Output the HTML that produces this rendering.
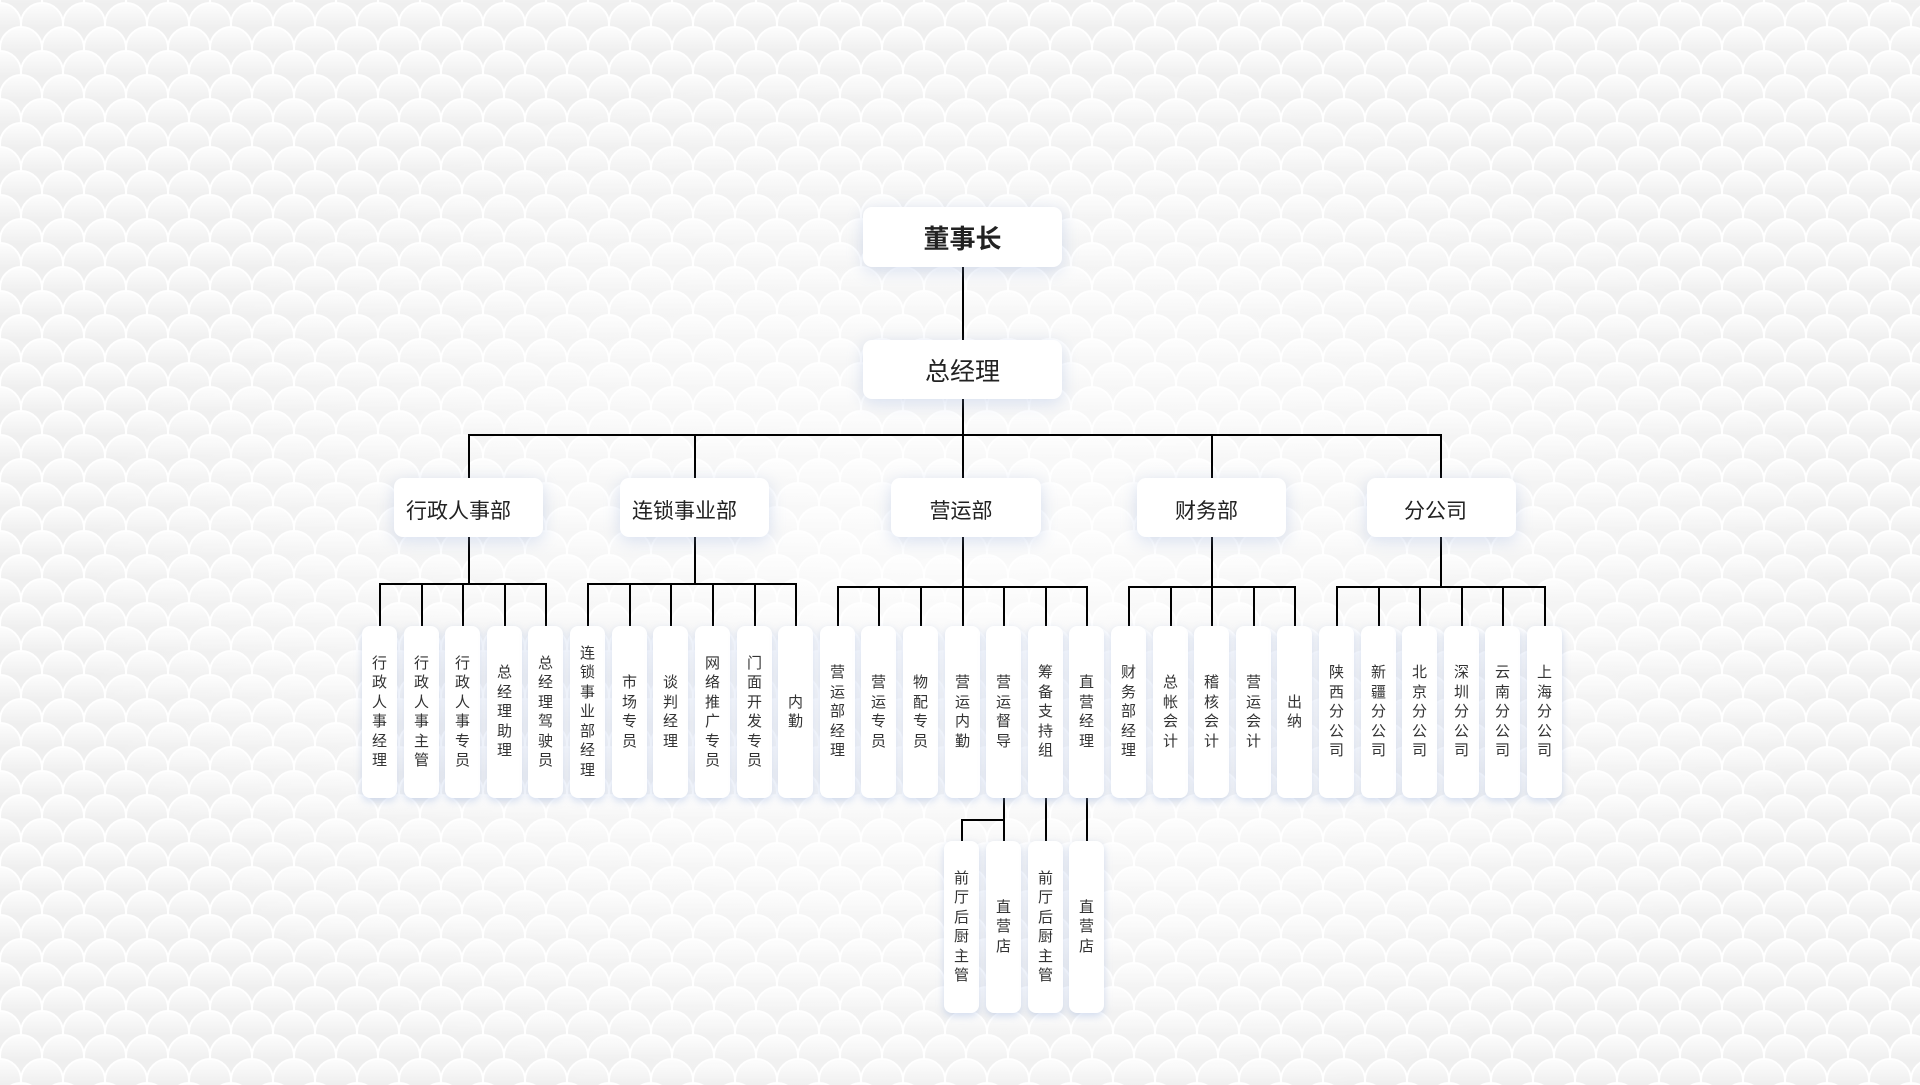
<!DOCTYPE html>
<html><head><meta charset="utf-8">
<style>
html,body{margin:0;padding:0;}
body{width:1920px;height:1085px;position:relative;overflow:hidden;background:#f5f5f5;font-family:"Liberation Sans","Noto Sans CJK SC",sans-serif;}
#bg{position:absolute;left:0;top:0;}
#glow{position:absolute;left:0;top:0;width:1920px;height:1085px;background:radial-gradient(ellipse 900px 560px at 960px 600px, rgba(255,255,255,0.7) 0%, rgba(255,255,255,0.4) 55%, rgba(255,255,255,0) 100%);}
#lines{position:absolute;left:0;top:0;}
.b{position:absolute;background:#fff;border-radius:9px;box-shadow:0 4px 16px rgba(140,165,215,0.32);display:flex;align-items:center;justify-content:center;color:#222;}
.s{position:absolute;top:626px;width:35px;height:172px;background:#fff;border-radius:8px;box-shadow:0 3px 8px rgba(140,165,215,0.38);display:flex;align-items:center;justify-content:center;color:#333;font-size:15px;line-height:19.5px;}
.s span{display:block;width:15px;text-align:center;word-break:break-all;}
.r2{top:841px;}
.d{top:478px;height:59px;width:149px;font-size:21px;}
.d span{position:relative;top:2px;}
</style></head><body>
<svg id="bg" width="1920" height="1085" xmlns="http://www.w3.org/2000/svg">
<defs>
<linearGradient id="sg" x1="0" y1="0" x2="0" y2="0.6">
<stop offset="0" stop-color="#fdfdfd"/>
<stop offset="1" stop-color="#efefef"/>
</linearGradient>
<pattern id="sc" width="42" height="48" patternUnits="userSpaceOnUse">
<rect width="42" height="48" fill="#f3f3f3"/>
<circle cx="21" cy="0" r="21" fill="url(#sg)" stroke="#ffffff" stroke-width="2"/>
<circle cx="0" cy="24" r="21" fill="url(#sg)" stroke="#ffffff" stroke-width="2"/>
<circle cx="42" cy="24" r="21" fill="url(#sg)" stroke="#ffffff" stroke-width="2"/>
<circle cx="21" cy="48" r="21" fill="url(#sg)" stroke="#ffffff" stroke-width="2"/>
</pattern>
</defs>
<rect width="1920" height="1085" fill="url(#sc)"/>
</svg>
<div id="glow"></div>
<svg id="lines" width="1920" height="1085" xmlns="http://www.w3.org/2000/svg">
<g stroke="#000" stroke-width="2" fill="none" stroke-linecap="square" shape-rendering="crispEdges">
<path d="M963 267V340M963 399V435"/>
<path d="M469 478V435H1441V478M695 435V478M963 435V478M1212 435V478"/>
<path d="M469 537V584M695 537V584M963 537V587M1212 537V587M1441 537V587"/>
<path d="M380 626V584H546V626M422 584V626M463 584V626M505 584V626"/>
<path d="M588 626V584H796V626M630 584V626M671 584V626M713 584V626M755 584V626"/>
<path d="M838 626V587H1087V626M879 587V626M921 587V626M963 587V626M1004 587V626M1046 587V626"/>
<path d="M1129 626V587H1295V626M1171 587V626M1212 587V626M1254 587V626"/>
<path d="M1337 626V587H1545V626M1379 587V626M1420 587V626M1462 587V626M1503 587V626"/>
<path d="M1004 798V841M1004 820H962V841M1046 798V841M1087 798V841"/>
</g>
</svg>

<div class="b" style="left:863px;top:207px;width:199px;height:60px;font-size:26px;font-weight:bold;">董事长</div>
<div class="b" style="left:863px;top:340px;width:199px;height:59px;font-size:25px;">总经理</div>

<div class="b d" style="left:394px;"><span style="margin-right:20px">行政人事部</span></div>
<div class="b d" style="left:620px;"><span style="margin-right:20px">连锁事业部</span></div>
<div class="b d" style="left:891px;width:150px;"><span style="margin-right:10px">营运部</span></div>
<div class="b d" style="left:1137px;"><span style="margin-right:10px">财务部</span></div>
<div class="b d" style="left:1367px;"><span style="margin-right:12px">分公司</span></div>

<div class="s" style="left:362px"><span>行政人事经理</span></div>
<div class="s" style="left:404px"><span>行政人事主管</span></div>
<div class="s" style="left:445px"><span>行政人事专员</span></div>
<div class="s" style="left:487px"><span>总经理助理</span></div>
<div class="s" style="left:528px"><span>总经理驾驶员</span></div>

<div class="s" style="left:570px"><span>连锁事业部经理</span></div>
<div class="s" style="left:612px"><span>市场专员</span></div>
<div class="s" style="left:653px"><span>谈判经理</span></div>
<div class="s" style="left:695px"><span>网络推广专员</span></div>
<div class="s" style="left:737px"><span>门面开发专员</span></div>
<div class="s" style="left:778px"><span>内勤</span></div>

<div class="s" style="left:820px"><span>营运部经理</span></div>
<div class="s" style="left:861px"><span>营运专员</span></div>
<div class="s" style="left:903px"><span>物配专员</span></div>
<div class="s" style="left:945px"><span>营运内勤</span></div>
<div class="s" style="left:986px"><span>营运督导</span></div>
<div class="s" style="left:1028px"><span>筹备支持组</span></div>
<div class="s" style="left:1069px"><span>直营经理</span></div>

<div class="s" style="left:1111px"><span>财务部经理</span></div>
<div class="s" style="left:1153px"><span>总帐会计</span></div>
<div class="s" style="left:1194px"><span>稽核会计</span></div>
<div class="s" style="left:1236px"><span>营运会计</span></div>
<div class="s" style="left:1277px"><span>出纳</span></div>

<div class="s" style="left:1319px"><span>陕西分公司</span></div>
<div class="s" style="left:1361px"><span>新疆分公司</span></div>
<div class="s" style="left:1402px"><span>北京分公司</span></div>
<div class="s" style="left:1444px"><span>深圳分公司</span></div>
<div class="s" style="left:1485px"><span>云南分公司</span></div>
<div class="s" style="left:1527px"><span>上海分公司</span></div>

<div class="s r2" style="left:944px"><span>前厅后厨主管</span></div>
<div class="s r2" style="left:986px"><span>直营店</span></div>
<div class="s r2" style="left:1028px"><span>前厅后厨主管</span></div>
<div class="s r2" style="left:1069px"><span>直营店</span></div>
</body></html>
